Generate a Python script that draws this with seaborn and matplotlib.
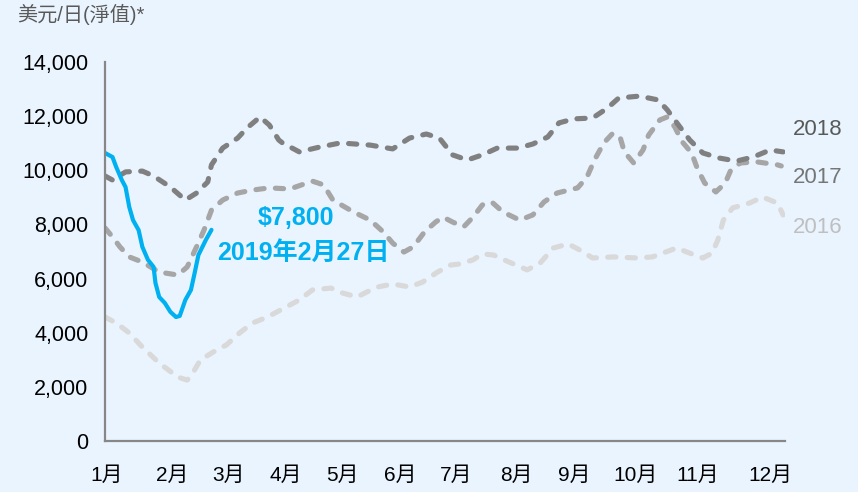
import matplotlib
matplotlib.use("Agg")
import matplotlib.pyplot as plt
import pandas as pd
import seaborn as sns

# x values are day-of-year, y values are USD/day (net)
days_2019 = [1, 5, 7, 10, 12, 14, 16, 19, 21, 24, 27, 28, 30, 33, 36, 39, 41, 44, 47, 49, 51, 55, 58]
vals_2019 = [10640, 10490, 10120, 9640, 9380, 8640, 8160, 7790, 7170, 6690, 6430, 5840, 5320,
             5100, 4770, 4580, 4620, 5210, 5580, 6210, 6870, 7430, 7800]

days_2018 = [1, 5, 12, 21, 27, 36, 44, 50, 56, 58, 64, 72, 77, 84, 89, 94, 96, 105, 116, 127,
             143, 155, 164, 173, 180, 185, 187, 195, 203, 211, 222, 230, 238, 244, 252, 262,
             270, 276, 287, 297, 302, 308, 314, 321, 330, 339, 348, 357, 364]
vals_2018 = [9790, 9640, 9940, 9970, 9790, 9380, 8900, 9160, 9570, 10200, 10820, 11190, 11560,
             11970, 11670, 11120, 11010, 10680, 10860, 11010, 10930, 10790, 11190, 11340, 11190,
             10750, 10570, 10380, 10570, 10820, 10820, 10970, 11230, 11750, 11900, 11930, 12300,
             12670, 12740, 12600, 12230, 11670, 11120, 10640, 10450, 10340, 10490, 10750, 10680]

days_2017 = [1, 5, 9, 14, 21, 30, 40, 45, 50, 54, 58, 64, 72, 80, 89, 100, 112, 118, 123, 134,
             143, 150, 155, 161, 166, 172, 178, 182, 187, 193, 198, 203, 208, 214, 223, 230, 236,
             243, 254, 259, 263, 268, 273, 277, 279, 284, 289, 292, 298, 302, 306, 310, 315, 318,
             322, 328, 333, 336, 341, 350, 361, 363]
vals_2017 = [7870, 7540, 7170, 6800, 6610, 6240, 6130, 6430, 7170, 7790, 8530, 8900, 9160, 9270,
             9350, 9310, 9600, 9460, 8900, 8460, 8160, 7720, 7310, 6980, 7170, 7720, 8090, 8270,
             8090, 7910, 8270, 8720, 8830, 8460, 8160, 8350, 8830, 9160, 9350, 9750, 10380, 11010,
             11380, 11160, 10680, 10270, 10750, 11300, 11860, 11970, 11600, 11050, 10640, 10080,
             9530, 9200, 9530, 10010, 10270, 10310, 10200, 10160]

days_2016 = [1, 7, 14, 21, 30, 40, 45, 48, 52, 59, 66, 73, 80, 88, 95, 105, 112, 122, 128, 136,
             141, 147, 155, 164, 171, 179, 186, 191, 198, 203, 209, 216, 227, 234, 241, 249, 255,
             262, 273, 286, 294, 307, 314, 321, 326, 329, 332, 337, 346, 353, 361, 364]
vals_2016 = [4580, 4360, 3990, 3470, 2880, 2360, 2250, 2510, 2990, 3290, 3550, 3990, 4360, 4580,
             4840, 5210, 5580, 5650, 5470, 5320, 5500, 5690, 5800, 5690, 5870, 6240, 6500, 6540,
             6690, 6910, 6870, 6650, 6320, 6580, 7130, 7280, 7060, 6760, 6800, 6760, 6800, 7130,
             6940, 6760, 6940, 7420, 8160, 8610, 8790, 9010, 8790, 8350]

month_labels = ["1月", "2月", "3月", "4月", "5月", "6月", "7月", "8月", "9月", "10月", "11月", "12月"]
month_pos = [2, 37, 67, 98, 128, 159, 189, 221, 252, 285, 318, 357]
y_ticks = [0, 2000, 4000, 6000, 8000, 10000, 12000, 14000]

bg = "#eaf4fe"
sns.set_theme(style="white", rc={"axes.facecolor": bg, "figure.facecolor": bg})
plt.rcParams["font.family"] = ["Liberation Sans", "Noto Sans CJK TC", "DejaVu Sans"]

fig = plt.figure(figsize=(8.58, 4.92), dpi=100)
ax = fig.add_axes([105 / 858, 1 - 441 / 492, 680 / 858, 379 / 492])

dash = (0, (1.6, 2.2))
series = [
    (days_2016, vals_2016, "#d9d9d9", dash, 3.7),
    (days_2017, vals_2017, "#a6a6a6", dash, 3.7),
    (days_2018, vals_2018, "#808080", dash, 3.7),
    (days_2019, vals_2019, "#00b0f0", "-", 3.0),
]
for d, v, c, ls, lw in series:
    df = pd.DataFrame({"day": d, "value": v})
    sns.lineplot(data=df, x="day", y="value", ax=ax, color=c, linewidth=lw,
                 linestyle=ls, dash_capstyle="round", solid_capstyle="round",
                 errorbar=None)

ax.set_xlim(1, 365)
ax.set_ylim(0, 14000)
ax.set_xticks(month_pos)
ax.set_xticklabels(month_labels)
ax.set_yticks(y_ticks)
ax.set_yticklabels([f"{t:,}" for t in y_ticks])
ax.tick_params(axis="x", length=0, pad=18, labelsize=15, colors="#000000")
ax.tick_params(axis="y", length=0, pad=12, labelsize=15.5, colors="#000000")
ax.set_xlabel("")
ax.set_ylabel("")
for s in ["top", "right"]:
    ax.spines[s].set_visible(False)
for s in ["left", "bottom"]:
    ax.spines[s].set_color("#878787")
    ax.spines[s].set_linewidth(1.6)

# series labels on the right
ax.text(369, 11490, "2018", color="#595959", fontsize=16, va="center", ha="left", clip_on=False)
ax.text(369, 9750, "2017", color="#767676", fontsize=16, va="center", ha="left", clip_on=False)
ax.text(369, 7870, "2016", color="#bfbfbf", fontsize=16, va="center", ha="left", clip_on=False)

# annotation for latest value
ax.text(103, 8240, "$7,800", color="#00b0f0", fontsize=18, fontweight="bold", ha="center", va="center")
ax.text(107, 6945, "2019年2月27日", color="#00b0f0", fontsize=18, fontweight="bold", ha="center", va="center")

fig.text(17 / 858, 1 - 14 / 492, "美元/日(淨值)*", color="#595959", fontsize=14.5, ha="left", va="center")

fig.savefig("out.png", dpi=100, facecolor=bg)
